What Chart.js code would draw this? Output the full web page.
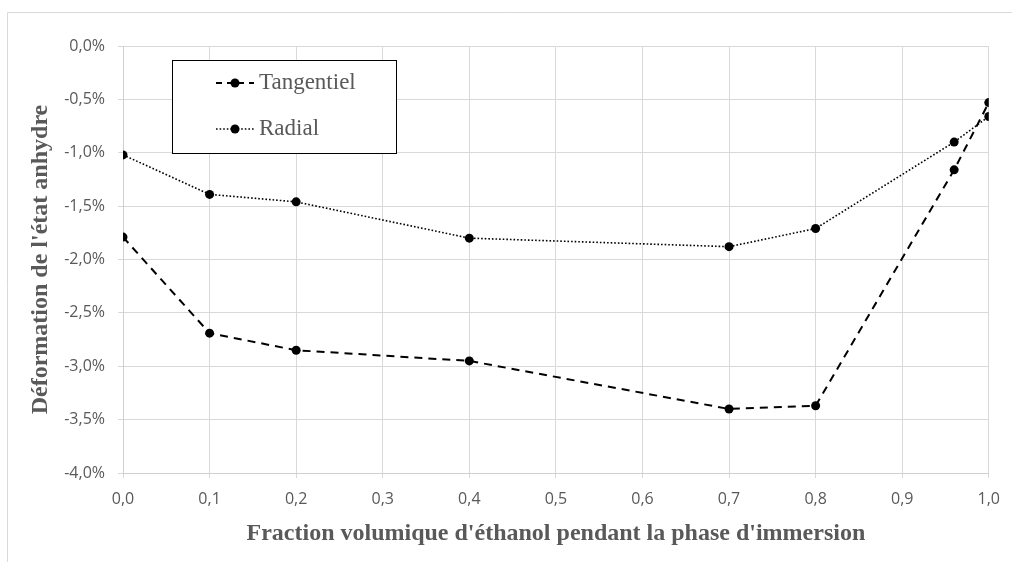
<!DOCTYPE html>
<html lang="fr">
<head>
    <meta charset="UTF-8">
    <title>Déformation de l'état anhydre</title>
    <script src="https://cdn.jsdelivr.net/npm/chart.js"></script>
    <style>
        body {
            margin: 0;
            padding: 0;
            background-color: #ffffff;
        }
        .wrap {
            position: relative;
            width: 1012px;
            height: 562px;
        }
    </style>
</head>
<body>
    <div class="wrap">
        <canvas id="deformChart" width="1012" height="562"></canvas>
    </div>
    <script>
        // fraction volumique d'éthanol
        const fractions = [0, 0.1, 0.2, 0.4, 0.7, 0.8, 0.96, 1.0];
        // déformation en %
        const tangentiel = [-1.79, -2.69, -2.85, -2.95, -3.40, -3.37, -1.16, -0.53];
        const radial = [-1.02, -1.39, -1.46, -1.80, -1.88, -1.71, -0.90, -0.66];
        const seriesNames = ['Tangentiel', 'Radial'];

        const greyText = '#595959';
        const serif = "'Liberation Serif', 'DejaVu Serif', serif";

        const toPoints = (vals) => fractions.map((f, i) => ({ x: f, y: vals[i] }));

        // cadre gris clair autour du graphique
        const framePlugin = {
            id: 'frame',
            beforeDraw(chart) {
                const ctx = chart.ctx;
                ctx.save();
                ctx.strokeStyle = '#d9d9d9';
                ctx.lineWidth = 1;
                ctx.beginPath();
                ctx.moveTo(7.5, chart.height);
                ctx.lineTo(7.5, 12.5);
                ctx.lineTo(chart.width, 12.5);
                ctx.stroke();
                ctx.restore();
            }
        };

        // légende encadrée dans la zone du graphique
        const boxLegend = {
            id: 'boxLegend',
            afterDatasetsDraw(chart) {
                const ctx = chart.ctx;
                const x0 = 172.5, y0 = 60.5, w = 224, h = 93;
                ctx.save();
                ctx.fillStyle = '#ffffff';
                ctx.fillRect(x0, y0, w, h);
                ctx.strokeStyle = '#000000';
                ctx.lineWidth = 1;
                ctx.strokeRect(x0, y0, w, h);
                const rows = [83, 129];
                chart.data.datasets.forEach((ds, i) => {
                    const y = rows[i];
                    ctx.strokeStyle = ds.borderColor;
                    ctx.lineWidth = ds.borderWidth;
                    ctx.setLineDash(ds.legendDash);
                    ctx.beginPath();
                    ctx.moveTo(216, y);
                    ctx.lineTo(254, y);
                    ctx.stroke();
                    ctx.setLineDash([]);
                    ctx.fillStyle = ds.pointBackgroundColor;
                    ctx.beginPath();
                    ctx.arc(235, y, ds.pointRadius, 0, Math.PI * 2);
                    ctx.fill();
                    ctx.fillStyle = greyText;
                    ctx.font = '23px ' + serif;
                    ctx.textBaseline = 'middle';
                    ctx.fillText(ds.label, 259, y);
                });
                ctx.restore();
            }
        };

        const ctx = document.getElementById('deformChart').getContext('2d');

        const chart = new Chart(ctx, {
            type: 'line',
            data: {
                datasets: [
                    {
                        label: seriesNames[0],
                        data: toPoints(tangentiel),
                        borderColor: '#000000',
                        borderWidth: 2,
                        borderDash: [8, 6],
                        legendDash: [6, 5],
                        pointRadius: 4.5,
                        pointBackgroundColor: '#000000',
                        pointBorderWidth: 0,
                        tension: 0
                    },
                    {
                        label: seriesNames[1],
                        data: toPoints(radial),
                        borderColor: '#000000',
                        borderWidth: 1.6,
                        borderDash: [1.6, 2],
                        legendDash: [1.6, 2],
                        pointRadius: 4.5,
                        pointBackgroundColor: '#000000',
                        pointBorderWidth: 0,
                        tension: 0
                    }
                ]
            },
            options: {
                responsive: false,
                animation: false,
                layout: {
                    padding: { left: 0, right: 22, top: 46, bottom: 0 }
                },
                plugins: {
                    legend: { display: false },
                    tooltip: { enabled: false }
                },
                scales: {
                    x: {
                        type: 'linear',
                        min: 0,
                        max: 1,
                        afterFit(scale) { scale.height = 89; },
                        ticks: {
                            stepSize: 0.1,
                            padding: 12,
                            color: greyText,
                            font: { family: "'Open Sans'", size: 16 },
                            callback: (v) => v.toFixed(1).replace('.', ',')
                        },
                        grid: { color: '#d9d9d9', tickLength: 5 },
                        border: { color: '#d0d0d0' },
                        title: {
                            display: true,
                            text: "Fraction volumique d'éthanol pendant la phase d'immersion",
                            color: greyText,
                            font: { family: serif, size: 24, weight: 'bold' },
                            padding: { top: 0, bottom: 14 }
                        }
                    },
                    y: {
                        min: -4,
                        max: 0,
                        afterFit(scale) { scale.width = 123; },
                        ticks: {
                            stepSize: 0.5,
                            padding: 13,
                            color: greyText,
                            font: { family: "'Open Sans'", size: 16 },
                            callback: (v) => v.toFixed(1).replace('.', ',') + '%'
                        },
                        grid: { color: '#d9d9d9', tickLength: 5 },
                        border: { color: '#d0d0d0' },
                        title: {
                            display: true,
                            text: "Déformation de l'état anhydre",
                            color: greyText,
                            font: { family: serif, size: 24, weight: 'bold' },
                            padding: { top: 26, bottom: 0 }
                        }
                    }
                }
            },
            plugins: [framePlugin, boxLegend]
        });
    </script>
</body>
</html>
